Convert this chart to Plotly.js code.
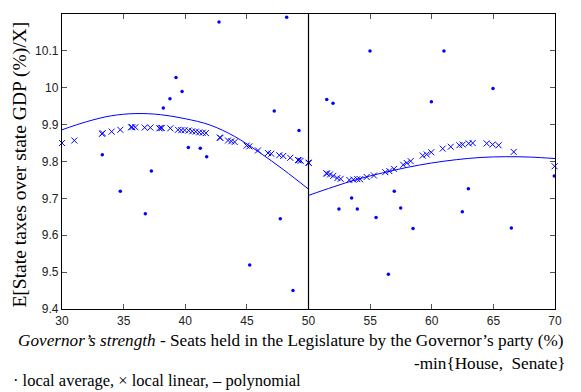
<!DOCTYPE html>
<html>
<head>
<meta charset="utf-8">
<script src="https://cdn.plot.ly/plotly-3.0.1.min.js"></script>
<style>html,body{margin:0;padding:0;background:#fff;}#chart{width:581px;height:392px;}</style>
</head>
<body>
<div id="chart"></div>
<script>
// local average (dots)
const avgX = [33.27, 34.73, 36.76, 37.25, 38.22, 38.76, 39.25, 39.74, 40.25, 41.22, 41.74, 42.74, 45.23, 47.22, 47.71, 48.23, 48.74, 49.23,
              51.48, 51.99, 52.47, 53.50, 53.96, 54.99, 55.48, 56.48, 56.96, 57.48, 58.48, 59.97, 60.99, 62.48, 62.97, 64.97, 66.46, 69.94];
const avgY = [9.818, 9.719, 9.658, 9.774, 9.945, 9.970, 10.028, 9.990, 9.838, 9.836, 9.813, 10.178, 9.519, 9.937, 9.645, 10.191, 9.450, 9.884,
              9.968, 9.958, 9.671, 9.701, 9.671, 10.100, 9.648, 9.494, 9.719, 9.674, 9.618, 9.962, 10.100, 9.664, 9.726, 9.998, 9.620, 9.761];

// local linear (crosses)
const linX = [30.0, 31.0, 33.25, 33.3, 34.03, 34.73, 35.6, 35.7, 35.95, 36.71, 37.17, 37.9, 38.0, 38.1, 38.79, 39.41, 39.68, 39.95, 40.28, 40.57, 40.85, 41.14, 41.41, 41.68,
              42.8, 42.85, 43.47, 43.74, 44.01, 44.98, 45.2, 45.9, 46.71, 46.98, 47.63, 47.95, 48.52, 49.15, 49.22, 49.37, 50.0, 50.02,
              51.45, 51.5, 51.75, 52.01, 52.34, 52.61, 53.31, 53.64, 53.96, 54.18, 54.72, 55.31, 56.23, 56.56, 56.94, 57.69, 57.97, 58.29,
              59.27, 59.59, 59.96, 60.89, 61.54, 62.24, 62.51, 63.0, 63.32, 64.46, 64.94, 65.43, 66.65, 69.97];
const linY = [9.850, 9.857, 9.875, 9.877, 9.881, 9.886, 9.893, 9.893, 9.893, 9.892, 9.892, 9.890, 9.891, 9.891, 9.890, 9.886, 9.885, 9.885, 9.884, 9.882, 9.881, 9.879, 9.878, 9.877,
              9.865, 9.864, 9.857, 9.855, 9.853, 9.843, 9.841, 9.830, 9.823, 9.821, 9.817, 9.815, 9.810, 9.804, 9.803, 9.802, 9.797, 9.796,
              9.768, 9.767, 9.765, 9.761, 9.755, 9.753, 9.750, 9.751, 9.752, 9.752, 9.758, 9.762, 9.771, 9.774, 9.780, 9.791, 9.796, 9.801,
              9.816, 9.819, 9.825, 9.835, 9.840, 9.844, 9.846, 9.849, 9.850, 9.849, 9.846, 9.844, 9.826, 9.787];

// polynomial fits
const polyLeftX = [30, 32, 34, 36, 38, 40, 42, 44, 46, 48, 50];
const polyLeftY = [9.886, 9.908, 9.924, 9.930, 9.927, 9.916, 9.899, 9.868, 9.825, 9.777, 9.725];
const polyRightX = [50, 52, 54, 56, 58, 60, 62, 64, 66, 68, 70];
const polyRightY = [9.708, 9.731, 9.752, 9.769, 9.784, 9.796, 9.805, 9.811, 9.813, 9.812, 9.808];

const xTicks = [30, 35, 40, 45, 50, 55, 60, 65, 70];
const xTickText = ['30', '35', '40', '45', '50', '55', '60', '65', '70'];
const yTicks = [9.4, 9.5, 9.6, 9.7, 9.8, 9.9, 10.0, 10.1];
const yTickText = ['9.4', '9.5', '9.6', '9.7', '9.8', '9.9', '10', '10.1'];

const blue = 'rgb(0,0,255)';
const serif = 'Liberation Serif, DejaVu Serif, serif';
const sans = 'Liberation Sans, Arial, sans-serif';

const traces = [
  {x: polyLeftX, y: polyLeftY, mode: 'lines', line: {color: blue, width: 1, shape: 'spline'}, hoverinfo: 'skip'},
  {x: polyRightX, y: polyRightY, mode: 'lines', line: {color: blue, width: 1, shape: 'spline'}, hoverinfo: 'skip'},
  {x: linX, y: linY, mode: 'markers', cliponaxis: false,
   marker: {symbol: 'x-thin-open', size: 6, color: blue, line: {color: blue, width: 1}}},
  {x: avgX, y: avgY, mode: 'markers', cliponaxis: false,
   marker: {symbol: 'circle', size: 3.5, color: blue, line: {width: 0}}}
];

const axisCommon = {
  showgrid: false, zeroline: false, showline: true, linecolor: '#000', linewidth: 1.2,
  mirror: 'ticks', ticks: 'inside', ticklen: 5, tickwidth: 1, tickcolor: '#555',
  tickfont: {family: sans, size: 12, color: '#222'}
};

const layout = {
  width: 581, height: 392,
  margin: {l: 62, r: 26, t: 14, b: 83},
  paper_bgcolor: '#fff', plot_bgcolor: '#fff',
  showlegend: false,
  xaxis: Object.assign({}, axisCommon, {range: [30, 70], tickvals: xTicks, ticktext: xTickText}),
  yaxis: Object.assign({}, axisCommon, {range: [9.4, 10.2], tickvals: yTicks, ticktext: yTickText}),
  shapes: [
    {type: 'line', xref: 'x', yref: 'paper', x0: 50, x1: 50, y0: 0, y1: 1, line: {color: '#000', width: 1.2}}
  ],
  annotations: [
    {xref: 'paper', yref: 'paper', x: -0.085, y: 0.49, xanchor: 'center', yanchor: 'middle', showarrow: false, textangle: -90,
     text: 'E[State taxes over state GDP (%)/X]', font: {family: serif, size: 19.5, color: '#000'}},
    {xref: 'paper', yref: 'paper', x: 0.4625, y: -0.108, xanchor: 'center', yanchor: 'middle', showarrow: false,
     text: "<i>Governor’s strength</i> - Seats held in the Legislature by the Governor’s party (%)",
     font: {family: serif, size: 17.2, color: '#000'}},
    {xref: 'paper', yref: 'paper', x: 1.026, y: -0.186, xanchor: 'right', yanchor: 'middle', showarrow: false,
     text: '-min{House,  Senate}', font: {family: serif, size: 17.2, color: '#000'}},
    {xref: 'paper', yref: 'paper', x: -0.103, y: -0.242, xanchor: 'left', yanchor: 'middle', showarrow: false,
     text: '· local average, × local linear, – polynomial', font: {family: serif, size: 16.5, color: '#000'}}
  ]
};

Plotly.newPlot('chart', traces, layout, {staticPlot: true, displayModeBar: false});
</script>
</body>
</html>
